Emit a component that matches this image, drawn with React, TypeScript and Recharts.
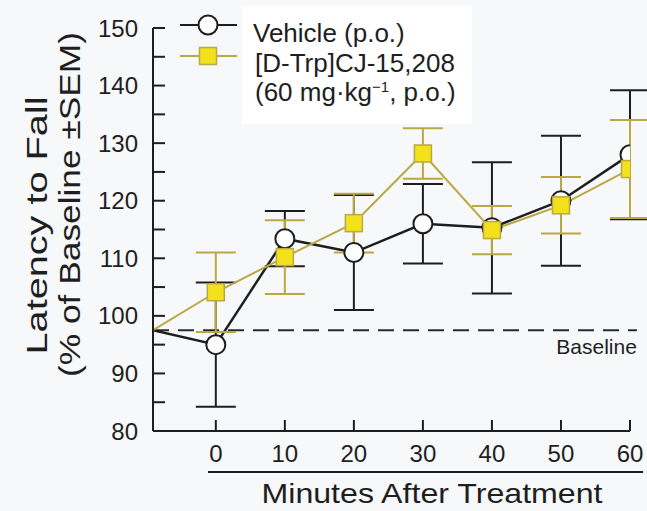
import React from 'react';
import {
	ComposedChart,
	Line,
	XAxis,
	YAxis,
	ErrorBar,
	ReferenceLine,
	Legend,
} from 'recharts';

// minutes after treatment; first entry is the pre-treatment start at the y axis
const MINUTES = [-9.1, 0, 10, 20, 30, 40, 50, 60];
const VEHICLE = [97.5, 95, 113.4, 111, 116, 115.3, 120, 128];
const VEHICLE_SEM = [null, 10.8, 4.8, 10, 6.9, 11.4, 11.3, 11.2];
const CJ = [97.5, 104.1, 110.2, 116.1, 128.2, 114.9, 119.2, 125.5];
const CJ_SEM = [null, 6.9, 6.4, 5.1, 4.4, 4.2, 4.9, 8.5];
const X_TICKS = [0, 10, 20, 30, 40, 50, 60];
const Y_TICKS = [80, 85, 90, 95, 100, 105, 110, 115, 120, 125, 130, 135, 140, 145, 150];
const BASELINE = 97.5;

const FONT = '"Liberation Sans", Arial, Helvetica, sans-serif';
const INK = '#1e1e1e';
const YELLOW = '#f3e21b';
const OLIVE = '#b9a844';
const BG = '#f6f8fa';

const data = MINUTES.map((m, i) => ({
	min: m,
	vehicle: VEHICLE[i],
	vehicleSem: VEHICLE_SEM[i],
	cj: CJ[i],
	cjSem: CJ_SEM[i],
}));

const CircleDot = (p: any) =>
	p.index === 0 ? (
		<g key={`vd-${p.index}`} />
	) : (
		<circle key={`vd-${p.index}`} cx={p.cx} cy={p.cy} r={9.5} fill="#fff" stroke={INK} strokeWidth={2} />
	);

const SquareDot = (p: any) =>
	p.index === 0 ? (
		<g key={`cd-${p.index}`} />
	) : (
		<rect
			key={`cd-${p.index}`}
			x={p.cx - 8.5}
			y={p.cy - 8.5}
			width={17}
			height={17}
			fill={YELLOW}
			stroke={OLIVE}
			strokeWidth={1.5}
		/>
	);

// the axis title in the original is drawn tall and narrow, so stretch it along its length
const YTitle = ({ viewBox }: any) => {
	const cy = viewBox.y + viewBox.height / 2;
	return (
		<g fontFamily={FONT} fontSize={30} fill={INK}>
			<text
				transform={`translate(47, ${cy - 4}) rotate(-90)`}
				textAnchor="middle"
				fill={INK}
				textLength={258}
				lengthAdjust="spacingAndGlyphs">
				Latency to Fall
			</text>
			<text
				transform={`translate(80, ${cy - 25}) rotate(-90)`}
				textAnchor="middle"
				fill={INK}
				textLength={345}
				lengthAdjust="spacingAndGlyphs">
				(% of Baseline ±SEM)
			</text>
		</g>
	);
};

const XTitle = ({ viewBox }: any) => {
	const { x, y, width } = viewBox;
	return (
		<g>
			<line x1={x + 55} x2={x + width + 13} y1={y + 41} y2={y + 41} stroke={INK} strokeWidth={2} />
			<text
				x={x + 279}
				y={y + 72}
				textAnchor="middle"
				fontFamily={FONT}
				fontSize={28}
				fill={INK}
				textLength={341}
				lengthAdjust="spacingAndGlyphs">
				Minutes After Treatment
			</text>
		</g>
	);
};

const BaselineLabel = ({ viewBox }: any) => (
	<text
		x={viewBox.x + viewBox.width}
		y={viewBox.y + 24}
		textAnchor="end"
		fontFamily={FONT}
		fontSize={21}
		fill={INK}>
		Baseline
	</text>
);

const LegendBox = () => (
	<svg width={330} height={128} style={{ display: 'block' }}>
		<rect x={72} y={6} width={230} height={118} fill="#fff" />
		<line x1={10} x2={67} y1={25} y2={25} stroke={INK} strokeWidth={2} />
		<circle cx={38} cy={25} r={9.5} fill="#fff" stroke={INK} strokeWidth={2} />
		<line x1={10} x2={67} y1={56} y2={56} stroke={OLIVE} strokeWidth={2} />
		<rect x={29.5} y={47.5} width={17} height={17} fill={YELLOW} stroke={OLIVE} strokeWidth={1.5} />
		<g fontFamily={FONT} fontSize={26} fill={INK}>
			<text x={83} y={42}>Vehicle (p.o.)</text>
			<text x={85} y={72}>[D-Trp]CJ-15,208</text>
			<text x={85} y={101}>
				<tspan>(60 mg·kg</tspan>
				<tspan dy={-9} fontSize={15}>−1</tspan>
				<tspan dy={9}>, p.o.)</tspan>
			</text>
		</g>
	</svg>
);

export default function App() {
	return (
		<div style={{ width: 647, height: 511, background: BG }}>
			<style>{'body{margin:0}'}</style>
			<ComposedChart
				width={647}
				height={511}
				data={data}
				margin={{ top: 28, right: 17, left: 0, bottom: 0 }}>
				<XAxis
					dataKey="min"
					type="number"
					domain={[MINUTES[0], 60]}
					ticks={X_TICKS}
					interval={0}
					allowDataOverflow
					height={80}
					axisLine={{ stroke: INK, strokeWidth: 2 }}
					tickLine={{ stroke: INK, strokeWidth: 2 }}
					tickSize={-11}
					tickMargin={25}
					tick={{ fill: INK, fontSize: 24, fontFamily: FONT }}
					label={{ content: XTitle }}
				/>
				<YAxis
					type="number"
					domain={[80, 150]}
					ticks={Y_TICKS}
					interval={0}
					width={153}
					axisLine={{ stroke: INK, strokeWidth: 2 }}
					tickLine={{ stroke: INK, strokeWidth: 2 }}
					tickSize={-12}
					tickMargin={27}
					tickFormatter={(v: number) => (v % 10 === 0 ? String(v) : '')}
					tick={{ fill: INK, fontSize: 24, fontFamily: FONT }}
					label={{ content: YTitle }}
				/>
				<ReferenceLine
					segment={[
						{ x: MINUTES[0], y: BASELINE },
						{ x: 61, y: BASELINE },
					]}
					ifOverflow="visible"
					stroke="#2a2a2a"
					strokeWidth={2}
					strokeDasharray="16 9"
					label={{ content: BaselineLabel }}
				/>
				<Legend
					layout="vertical"
					align="center"
					verticalAlign="middle"
					wrapperStyle={{ top: 0, left: 170, width: 330 }}
					content={LegendBox}
				/>
				<Line
					dataKey="vehicle"
					stroke={INK}
					strokeWidth={2.5}
					dot={CircleDot}
					activeDot={false}
					isAnimationActive={false}>
					<ErrorBar dataKey="vehicleSem" width={20} stroke={INK} strokeWidth={2} direction="y" />
				</Line>
				<Line
					dataKey="cj"
					stroke={OLIVE}
					strokeWidth={2}
					dot={SquareDot}
					activeDot={false}
					isAnimationActive={false}>
					<ErrorBar dataKey="cjSem" width={20} stroke={OLIVE} strokeWidth={2} direction="y" />
				</Line>
			</ComposedChart>
		</div>
	);
}
